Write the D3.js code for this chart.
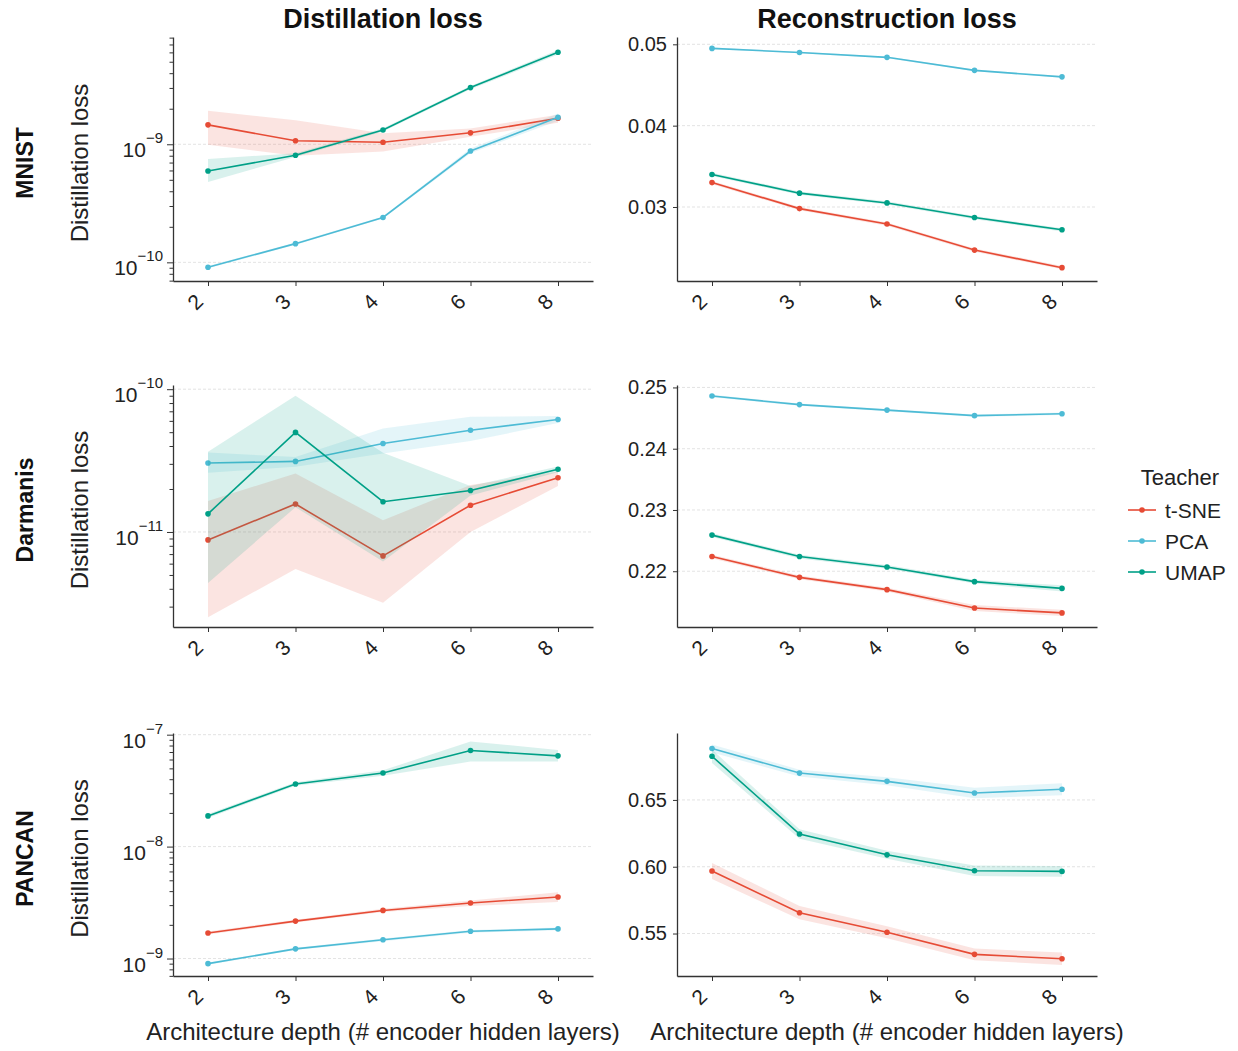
<!DOCTYPE html>
<html>
<head>
<meta charset="utf-8">
<script src="https://cdn.jsdelivr.net/npm/d3@7"></script>
<style>
  body { margin: 0; background: #fff; }
  svg { font-family: "Liberation Sans", Arial, sans-serif; }
</style>
</head>
<body>
<svg id="chart" width="1238" height="1051"></svg>
<script>
// categories
const depths = ["2", "3", "4", "6", "8"];
const teachers = ["t-SNE", "PCA", "UMAP"];
const teacherColors = ["#E64B35", "#4DBBD5", "#00A087"];
const datasets = ["MNIST", "Darmanis", "PANCAN"];
const metrics = ["Distillation loss", "Reconstruction loss"];

// each array: rows = t-SNE, PCA, UMAP ; columns = depths
const mnistDistMean = [
  [1.46e-9, 1.07e-9, 1.04e-9, 1.25e-9, 1.66e-9],
  [9.1e-11, 1.44e-10, 2.4e-10, 8.77e-10, 1.69e-9],
  [5.94e-10, 8.07e-10, 1.32e-9, 3.02e-9, 6.02e-9]
];
const mnistDistLo = [
  [0.99e-9, 0.80e-9, 0.87e-9, 1.16e-9, 1.52e-9],
  [8.9e-11, 1.41e-10, 2.35e-10, 8.4e-10, 1.58e-9],
  [4.8e-10, 7.8e-10, 1.28e-9, 2.92e-9, 5.75e-9]
];
const mnistDistHi = [
  [1.92e-9, 1.60e-9, 1.24e-9, 1.36e-9, 1.78e-9],
  [9.3e-11, 1.47e-10, 2.45e-10, 9.2e-10, 1.82e-9],
  [7.5e-10, 8.4e-10, 1.37e-9, 3.12e-9, 6.3e-9]
];

const mnistRecMean = [
  [0.0330, 0.0298, 0.0279, 0.0247, 0.02254],
  [0.0495, 0.0490, 0.0484, 0.0468, 0.0460],
  [0.0340, 0.0317, 0.0305, 0.0287, 0.0272]
];
const mnistRecLo = [
  [0.0328, 0.0296, 0.0277, 0.0245, 0.02235],
  [0.0494, 0.0489, 0.0483, 0.0467, 0.0459],
  [0.0338, 0.0315, 0.0303, 0.0285, 0.0270]
];
const mnistRecHi = [
  [0.0332, 0.0300, 0.0281, 0.0249, 0.02275],
  [0.0496, 0.0491, 0.0485, 0.0469, 0.0461],
  [0.0342, 0.0319, 0.0307, 0.0289, 0.0274]
];

const darmDistMean = [
  [8.8e-12, 1.57e-11, 6.8e-12, 1.54e-11, 2.4e-11],
  [3.04e-11, 3.12e-11, 4.17e-11, 5.16e-11, 6.14e-11],
  [1.34e-11, 4.98e-11, 1.63e-11, 1.95e-11, 2.75e-11]
];
const darmDistLo = [
  [2.53e-12, 5.5e-12, 3.2e-12, 1.0e-11, 2.1e-11],
  [2.6e-11, 2.86e-11, 3.55e-11, 4.33e-11, 5.8e-11],
  [4.4e-12, 1.49e-11, 6.2e-12, 1.8e-11, 2.62e-11]
];
const darmDistHi = [
  [1.65e-11, 2.57e-11, 1.21e-11, 2.13e-11, 2.65e-11],
  [3.6e-11, 3.35e-11, 5.3e-11, 6.4e-11, 6.5e-11],
  [3.65e-11, 8.98e-11, 3.59e-11, 2.1e-11, 2.88e-11]
];

const darmRecMean = [
  [0.2224, 0.2190, 0.2170, 0.2140, 0.2132],
  [0.2486, 0.2472, 0.2463, 0.2454, 0.2457],
  [0.2259, 0.2224, 0.2207, 0.2183, 0.2172]
];
const darmRecLo = [
  [0.2221, 0.2187, 0.2167, 0.2135, 0.2127],
  [0.2484, 0.2470, 0.2461, 0.2452, 0.2455],
  [0.2256, 0.2221, 0.2204, 0.2180, 0.2167]
];
const darmRecHi = [
  [0.2227, 0.2193, 0.2173, 0.2145, 0.2137],
  [0.2488, 0.2474, 0.2465, 0.2456, 0.2459],
  [0.2262, 0.2227, 0.2210, 0.2186, 0.2177]
];

const pancDistMean = [
  [1.69e-9, 2.16e-9, 2.69e-9, 3.13e-9, 3.55e-9],
  [9.0e-10, 1.22e-9, 1.47e-9, 1.75e-9, 1.84e-9],
  [1.88e-8, 3.62e-8, 4.55e-8, 7.23e-8, 6.47e-8]
];
const pancDistLo = [
  [1.64e-9, 2.10e-9, 2.60e-9, 2.95e-9, 3.2e-9],
  [8.8e-10, 1.19e-9, 1.43e-9, 1.70e-9, 1.79e-9],
  [1.80e-8, 3.50e-8, 4.30e-8, 5.75e-8, 5.75e-8]
];
const pancDistHi = [
  [1.74e-9, 2.22e-9, 2.78e-9, 3.30e-9, 3.9e-9],
  [9.2e-10, 1.25e-9, 1.51e-9, 1.80e-9, 1.89e-9],
  [1.96e-8, 3.75e-8, 4.80e-8, 8.7e-8, 7.3e-8]
];

const pancRecMean = [
  [0.5968, 0.5656, 0.5510, 0.5344, 0.5311],
  [0.6885, 0.6701, 0.6639, 0.6552, 0.6580],
  [0.6827, 0.6245, 0.6089, 0.5970, 0.5965]
];
const pancRecLo = [
  [0.5908, 0.5606, 0.5465, 0.5300, 0.5265],
  [0.6855, 0.6676, 0.6609, 0.6512, 0.6535],
  [0.6777, 0.6210, 0.6059, 0.5930, 0.5925]
];
const pancRecHi = [
  [0.6028, 0.5706, 0.5555, 0.5388, 0.5357],
  [0.6915, 0.6726, 0.6669, 0.6592, 0.6625],
  [0.6877, 0.6280, 0.6119, 0.6010, 0.6005]
];

// pixel frame of the 3x2 grid
const colX = [[173, 593], [677, 1097]];
const rowY = [[37, 281], [385, 627], [733, 976]];

const panels = [
  {row: 0, col: 0, log: true,  mean: mnistDistMean, lo: mnistDistLo, hi: mnistDistHi, domain: [6.95e-11, 8.1e-9]},
  {row: 0, col: 1, log: false, mean: mnistRecMean,  lo: mnistRecLo,  hi: mnistRecHi,  domain: [0.0209, 0.0509], ticks: [0.03, 0.04, 0.05]},
  {row: 1, col: 0, log: true,  mean: darmDistMean,  lo: darmDistLo,  hi: darmDistHi,  domain: [2.16e-12, 1.07e-10]},
  {row: 1, col: 1, log: false, mean: darmRecMean,   lo: darmRecLo,   hi: darmRecHi,   domain: [0.2109, 0.2504], ticks: [0.22, 0.23, 0.24, 0.25]},
  {row: 2, col: 0, log: true,  mean: pancDistMean,  lo: pancDistLo,  hi: pancDistHi,  domain: [6.98e-10, 1.035e-7]},
  {row: 2, col: 1, log: false, mean: pancRecMean,   lo: pancRecLo,   hi: pancRecHi,   domain: [0.5182, 0.7001], ticks: [0.55, 0.60, 0.65]}
];

const svg = d3.select("#chart");
const textColor = "#222";
const spineColor = "#333";

const isMajor = v => Math.abs(Math.log10(v) - Math.round(Math.log10(v))) < 1e-6;

function drawPanel(p) {
  const [x0, x1] = colX[p.col];
  const [y0, y1] = rowY[p.row];

  const x = d3.scalePoint().domain(depths).range([x0, x1]).padding(0.4);
  const y = (p.log ? d3.scaleLog() : d3.scaleLinear()).domain(p.domain).range([y1, y0]);

  const g = svg.append("g");

  const tickVals = p.log ? y.ticks() : p.ticks;
  const majors = p.log ? tickVals.filter(isMajor) : p.ticks;

  // grid
  g.append("g").selectAll("line")
    .data(majors)
    .join("line")
    .attr("x1", x0).attr("x2", x1)
    .attr("y1", d => y(d)).attr("y2", d => y(d))
    .attr("stroke", "#dcdcdc")
    .attr("stroke-width", 0.8)
    .attr("stroke-dasharray", "3,2");

  // series: band, line, points
  teachers.forEach((t, i) => {
    const band = d3.area()
      .x((d, j) => x(depths[j]))
      .y0((d, j) => y(p.lo[i][j]))
      .y1((d, j) => y(p.hi[i][j]));
    g.append("path")
      .datum(p.mean[i])
      .attr("d", band)
      .attr("fill", teacherColors[i])
      .attr("fill-opacity", 0.15);

    const line = d3.line()
      .x((d, j) => x(depths[j]))
      .y(d => y(d));
    g.append("path")
      .datum(p.mean[i])
      .attr("d", line)
      .attr("fill", "none")
      .attr("stroke", teacherColors[i])
      .attr("stroke-width", 1.6);

    g.append("g").selectAll("circle")
      .data(p.mean[i])
      .join("circle")
      .attr("cx", (d, j) => x(depths[j]))
      .attr("cy", d => y(d))
      .attr("r", 2.8)
      .attr("fill", teacherColors[i]);
  });

  // x axis
  const xAxis = g.append("g")
    .attr("transform", `translate(0,${y1})`)
    .call(d3.axisBottom(x).tickSize(5).tickSizeOuter(0));
  xAxis.select(".domain").attr("stroke", spineColor).attr("stroke-width", 1.3);
  xAxis.selectAll(".tick line").attr("stroke", spineColor).attr("stroke-width", 1);
  xAxis.selectAll(".tick text")
    .attr("x", null).attr("y", null).attr("dy", null)
    .attr("transform", "translate(-4,22) rotate(-45)")
    .attr("text-anchor", "end")
    .attr("font-size", 21)
    .attr("font-family", "Liberation Sans, Arial, sans-serif")
    .attr("fill", textColor);

  // y axis
  const yAxis = g.append("g")
    .attr("transform", `translate(${x0},0)`)
    .call(d3.axisLeft(y)
      .tickValues(tickVals)
      .tickSize(4)
      .tickSizeOuter(0)
      .tickPadding(6)
      .tickFormat(p.log ? () => "" : d3.format(".2f")));
  yAxis.select(".domain").attr("stroke", spineColor).attr("stroke-width", 1.3);
  yAxis.selectAll(".tick line").attr("stroke", spineColor).attr("stroke-width", 1);
  yAxis.selectAll(".tick text")
    .attr("font-size", 20)
    .attr("font-family", "Liberation Sans, Arial, sans-serif")
    .attr("fill", textColor);

  if (p.log) {
    yAxis.selectAll(".tick line").attr("x2", d => isMajor(d) ? -6 : -3.5);
    yAxis.selectAll(".tick text").remove();
    majors.forEach(v => {
      const e = Math.round(Math.log10(v));
      const lbl = yAxis.append("text")
        .attr("x", -10)
        .attr("y", y(v) + 13)
        .attr("text-anchor", "end")
        .attr("fill", textColor)
        .attr("font-size", 21);
      lbl.append("tspan").text("10");
      lbl.append("tspan")
        .attr("dy", -14)
        .attr("font-size", 15)
        .text("\u2212" + Math.abs(e));
    });
  }
}

panels.forEach(drawPanel);

// column titles
metrics.forEach((m, c) => {
  svg.append("text")
    .attr("x", (colX[c][0] + colX[c][1]) / 2)
    .attr("y", 28)
    .attr("text-anchor", "middle")
    .attr("font-size", 27)
    .attr("font-weight", "bold")
    .attr("fill", "#111")
    .text(m);
});

// row labels + y label
datasets.forEach((ds, r) => {
  const cy = (rowY[r][0] + rowY[r][1]) / 2 + 4;
  svg.append("text")
    .attr("transform", `translate(33,${cy}) rotate(-90)`)
    .attr("text-anchor", "middle")
    .attr("font-size", 23)
    .attr("font-weight", "bold")
    .attr("fill", "#111")
    .text(ds);
  svg.append("text")
    .attr("transform", `translate(88,${cy}) rotate(-90)`)
    .attr("text-anchor", "middle")
    .attr("font-size", 24)
    .attr("fill", textColor)
    .text("Distillation loss");
});

// x labels
colX.forEach(([a, b]) => {
  svg.append("text")
    .attr("x", (a + b) / 2)
    .attr("y", 1040)
    .attr("text-anchor", "middle")
    .attr("font-size", 24)
    .attr("fill", textColor)
    .text("Architecture depth (# encoder hidden layers)");
});

// legend
const legend = svg.append("g").attr("transform", "translate(1128,0)");
legend.append("text")
  .attr("x", 52).attr("y", 485)
  .attr("text-anchor", "middle")
  .attr("font-size", 22)
  .attr("fill", textColor)
  .text("Teacher");

const items = legend.selectAll(".item")
  .data(teachers)
  .join("g")
  .attr("transform", (d, i) => `translate(0,${510 + i * 31})`);
items.append("line")
  .attr("x1", 0).attr("x2", 28)
  .attr("stroke", (d, i) => teacherColors[i])
  .attr("stroke-width", 1.6);
items.append("circle")
  .attr("cx", 14).attr("r", 2.8)
  .attr("fill", (d, i) => teacherColors[i]);
items.append("text")
  .attr("x", 37).attr("y", 7.5)
  .attr("font-size", 21)
  .attr("fill", textColor)
  .text(d => d);
</script>
</body>
</html>
